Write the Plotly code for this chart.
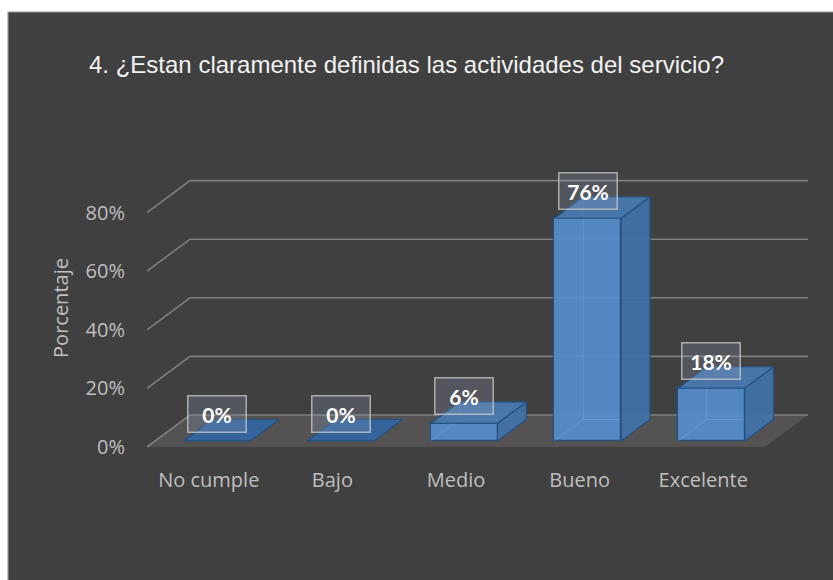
import plotly.graph_objects as go

# ---- data -------------------------------------------------------------
categories = ["No cumple", "Bajo", "Medio", "Bueno", "Excelente"]
values = [0, 0, 6, 76, 18]          # percent
y_ticks = [0, 20, 40, 60, 80]
y_tick_labels = [f"{v}%" for v in y_ticks]
title_text = "4. ¿Estan claramente definidas las actividades del servicio?"
y_title = "Porcentaje"

# ---- pseudo-3D geometry (data units) -----------------------------------
DX = 0.348      # depth offset along x (category units)
DY = 10.92      # depth offset along y (percent units)
F0, F1 = 0.19, 0.86   # front / back of each bar as a fraction of the depth
W = 0.54        # bar width

BG = "#404040"
FLOOR = "#545252"
GRID = "#7f7f7f"
FRONT = "rgba(84,141,202,0.93)"
SIDE = "rgba(66,114,168,0.93)"
TOP = "rgba(74,124,180,0.90)"
EDGE = "#24507f"
TXT = "#bfbfbf"
FONT = "'Open Sans', Lato, sans-serif"

n = len(categories)
x_lo, x_hi = -0.5, n - 0.5

# ---- layout constants --------------------------------------------------
L, R, T, B = 132, 20, 150, 114
plot_w, plot_h = 833 - L - R, 580 - T - B
px_per_cat = 123.6
px_per_pct = 2.93
x_range = [x_lo - (147 - L) / px_per_cat, x_lo + (833 - R - 147) / px_per_cat]
y_range = [-(466 - 447) / px_per_pct, (447 - T) / px_per_pct]

fig = go.Figure()

# dark chart box with a thin grey frame
fig.add_shape(type="rect", xref="paper", yref="paper", layer="below",
              x0=(8 - L) / plot_w, x1=(840 - L) / plot_w,
              y0=-(590 - (580 - B)) / plot_h, y1=1 + (T - 12) / plot_h,
              fillcolor=BG, line=dict(color="#9a9a9a", width=1.2))


def path(points, close=False):
    s = "M " + " L ".join(f"{x},{y}" for x, y in points)
    return s + (" Z" if close else "")


# floor (below the traces)
fig.add_shape(type="path", xref="x", yref="y", layer="below",
              path=path([(x_lo, 0), (x_hi, 0), (x_hi + DX, DY), (x_lo + DX, DY)], True),
              fillcolor=FLOOR, line=dict(width=0))

# side wall diagonals + back wall gridlines
for v in y_ticks:
    fig.add_shape(type="path", xref="x", yref="y", layer="below",
                  path=path([(x_lo, v), (x_lo + DX, v + DY), (x_hi + DX, v + DY)]),
                  line=dict(color=GRID, width=1.6))

# front faces as real bars
fig.add_trace(go.Bar(
    x=[i + F0 * DX for i in range(n)], y=values, base=F0 * DY, width=W,
    marker=dict(color=FRONT, line=dict(color=EDGE, width=1.2)),
    hoverinfo="skip", showlegend=False))


def poly(xs, ys, fill, line_color=EDGE, width=1.2):
    fig.add_trace(go.Scatter(
        x=xs + [xs[0]], y=ys + [ys[0]], mode="lines", fill="toself",
        fillcolor=fill, line=dict(color=line_color, width=width),
        hoverinfo="skip", showlegend=False))


def line(xs, ys, color, width):
    fig.add_trace(go.Scatter(
        x=xs, y=ys, mode="lines", line=dict(color=color, width=width),
        hoverinfo="skip", showlegend=False))


# side and top faces of each box
for i, v in enumerate(values):
    xl, xr = i - W / 2, i + W / 2
    if v > 0:
        # faint hidden edges seen through the translucent box
        line([xl + F0 * DX, xl + F1 * DX, xl + F1 * DX],
             [F0 * DY, F1 * DY, v + F1 * DY], "rgba(140,185,235,0.30)", 1)
        line([xl + F1 * DX, xr + F1 * DX], [F1 * DY, F1 * DY],
             "rgba(140,185,235,0.30)", 1)
        # right side face
        poly([xr + F0 * DX, xr + F1 * DX, xr + F1 * DX, xr + F0 * DX],
             [F0 * DY, F1 * DY, v + F1 * DY, v + F0 * DY], SIDE)
    # top face
    poly([xl + F0 * DX, xr + F0 * DX, xr + F1 * DX, xl + F1 * DX],
         [v + F0 * DY, v + F0 * DY, v + F1 * DY, v + F1 * DY],
         TOP if v > 0 else "rgba(52,100,160,0.95)")

# value labels
for i, v in enumerate(values):
    fig.add_annotation(
        x=i + F0 * DX, y=v + F0 * DY, xref="x", yref="y", yshift=27,
        text=f"<b>{v}%</b>", showarrow=False,
        font=dict(family="Lato, 'Open Sans', sans-serif", size=21, color="white"),
        bgcolor="rgba(150,170,195,0.22)", bordercolor="rgba(205,205,205,0.75)",
        borderwidth=1.5, borderpad=0, width=57, height=35)

fig.update_layout(
    width=833, height=580,
    margin=dict(l=L, r=R, t=T, b=B),
    paper_bgcolor="white", plot_bgcolor="rgba(0,0,0,0)",
    title=dict(text=title_text, xref="container", yref="container",
               x=89 / 833, xanchor="left", y=1 - 65 / 580, yanchor="middle",
               font=dict(family="'Liberation Sans', Arial, sans-serif",
                         size=24, color="#f2f2f2")),
    xaxis=dict(range=x_range, tickvals=list(range(n)), ticktext=categories,
               showgrid=False, zeroline=False, showline=False, ticks="",
               tickfont=dict(family=FONT, size=20, color=TXT)),
    yaxis=dict(range=y_range, tickvals=y_ticks, ticktext=y_tick_labels,
               showgrid=False, zeroline=False, showline=False, ticks="",
               ticklabelstandoff=6,
               tickfont=dict(family=FONT, size=20, color=TXT),
               title=dict(text=y_title, standoff=11,
                          font=dict(family=FONT, size=20, color=TXT))),
    bargap=0,
)

fig.write_html("out.html")
